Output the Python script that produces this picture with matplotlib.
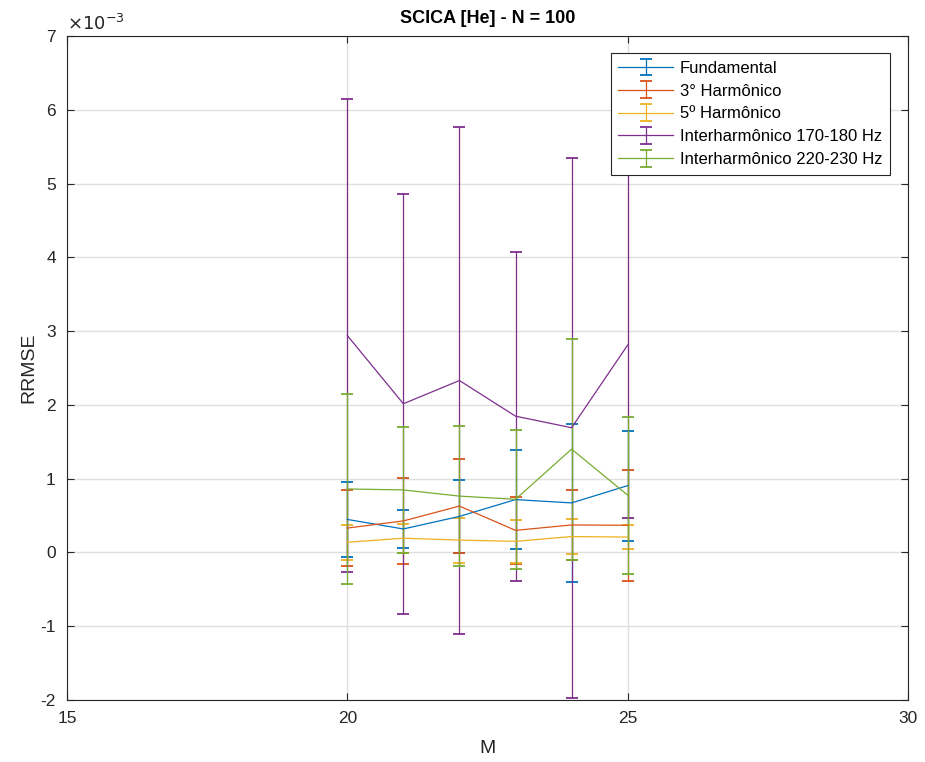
import numpy as np
import matplotlib.pyplot as plt

plt.rcParams['font.family'] = ['Liberation Sans', 'DejaVu Sans']
plt.rcParams['axes.unicode_minus'] = False

# Número de componentes M
M = [20, 21, 22, 23, 24, 25]

# RRMSE médio e desvio (valores em unidades de 1e-3)
fund_media = [0.447, 0.318, 0.488, 0.716, 0.671, 0.905]
fund_desv = [0.504, 0.262, 0.499, 0.669, 1.066, 0.745]

h3_media = [0.330, 0.427, 0.628, 0.299, 0.372, 0.368]
h3_desv = [0.513, 0.583, 0.639, 0.450, 0.479, 0.754]

h5_media = [0.138, 0.192, 0.167, 0.150, 0.215, 0.208]
h5_desv = [0.235, 0.194, 0.305, 0.290, 0.235, 0.165]

ih170_media = [2.940, 2.015, 2.330, 1.847, 1.690, 2.810]
ih170_desv = [3.210, 2.845, 3.440, 2.229, 3.660, 2.340]

ih220_media = [0.860, 0.847, 0.763, 0.720, 1.400, 0.777]
ih220_desv = [1.290, 0.858, 0.950, 0.940, 1.497, 1.063]

rotulos = ['Fundamental', '3° Harmônico', '5º Harmônico',
           'Interharmônico 170-180 Hz', 'Interharmônico 220-230 Hz']

# cores padrão do MATLAB
cores = ['#0072BD', '#D95319', '#EDB120', '#7E2F8E', '#77AC30']

series = [(fund_media, fund_desv), (h3_media, h3_desv), (h5_media, h5_desv),
          (ih170_media, ih170_desv), (ih220_media, ih220_desv)]

fig = plt.figure(figsize=(9.25, 7.62), dpi=100)
ax = fig.add_axes([0.0724, 0.0814, 0.9092, 0.8714])

for (media, desv), cor, rot in zip(series, cores, rotulos):
    ax.errorbar(M, media, yerr=desv, color=cor, lw=0.9, elinewidth=0.9,
                capsize=4.3, capthick=1.3, label=rot)

ax.set_xlim(15, 30)
ax.set_ylim(-2, 7)
ax.set_xticks([15, 20, 25, 30])
ax.set_yticks(np.arange(-2, 8, 1))
ax.grid(True, color='#dfdfdf', lw=1.0)
ax.set_axisbelow(True)
ax.tick_params(direction='in', top=True, right=True, labelsize=12.5,
               length=5, width=0.8, colors='#262626', pad=8)
for s in ax.spines.values():
    s.set_color('#262626')
    s.set_linewidth(0.8)

ax.set_xlabel('M', fontsize=14, color='#262626', labelpad=10)
ax.set_ylabel('RRMSE', fontsize=14, color='#262626', labelpad=2)
ax.set_title('SCICA [He] - N = 100', fontsize=13, fontweight='bold',
             color='black', pad=9)
ax.text(0.0, 1.003, r'$\times 10^{-3}$', transform=ax.transAxes,
        fontsize=13, color='#262626', ha='left', va='bottom')

leg = ax.legend(loc='upper right', bbox_to_anchor=(0.9786, 0.974),
                fontsize=12, fancybox=False, framealpha=1,
                edgecolor='#262626', borderpad=0.45, labelspacing=0.47,
                handlelength=3.3, handletextpad=0.4, borderaxespad=0)
leg.get_frame().set_linewidth(0.8)

fig.savefig('out.png', dpi=100)
